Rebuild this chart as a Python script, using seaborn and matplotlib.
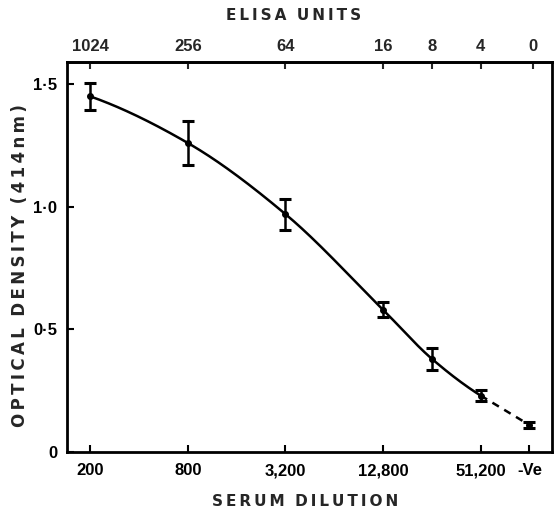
import numpy as np
import pandas as pd
import matplotlib
matplotlib.use("Agg")
import matplotlib.pyplot as plt
import seaborn as sns

# ---- data ----
dilution = [200, 800, 3200, 12800, 25600, 51200]
od_mean = [1.45, 1.26, 0.97, 0.58, 0.38, 0.23]
od_err = [0.055, 0.09, 0.063, 0.03, 0.045, 0.022]
neg_dilution = 102400          # position used for the "-Ve" control
neg_mean = 0.11
neg_err = 0.014

bottom_ticks = [200, 800, 3200, 12800, 51200, 102400]
bottom_labels = ["200", "800", "3,200", "12,800", "51,200", "-Ve"]
top_ticks = [200, 800, 3200, 12800, 25600, 51200, 108000]
top_labels = ["1024", "256", "64", "16", "8", "4", "0"]
y_ticks = [0, 0.5, 1.0, 1.5]
y_labels = ["0", "0·5", "1·0", "1·5"]


def pchip(xk, yk, xq):
    """Monotone cubic (Fritsch-Carlson) curve through the points."""
    xk = np.asarray(xk, float)
    yk = np.asarray(yk, float)
    h = np.diff(xk)
    d = np.diff(yk) / h
    m = np.zeros_like(yk)
    for i in range(1, len(xk) - 1):
        if d[i - 1] * d[i] > 0:
            w1 = 2 * h[i] + h[i - 1]
            w2 = h[i] + 2 * h[i - 1]
            m[i] = (w1 + w2) / (w1 / d[i - 1] + w2 / d[i])
    m[0] = ((2 * h[0] + h[1]) * d[0] - h[0] * d[1]) / (h[0] + h[1])
    m[-1] = ((2 * h[-1] + h[-2]) * d[-1] - h[-1] * d[-2]) / (h[-1] + h[-2])
    idx = np.clip(np.searchsorted(xk, xq) - 1, 0, len(xk) - 2)
    t = (xq - xk[idx]) / h[idx]
    h00 = 2 * t**3 - 3 * t**2 + 1
    h10 = t**3 - 2 * t**2 + t
    h01 = -2 * t**3 + 3 * t**2
    h11 = t**3 - t**2
    return (h00 * yk[idx] + h10 * h[idx] * m[idx] + h01 * yk[idx + 1]
            + h11 * h[idx] * m[idx + 1])


sns.set_style("ticks")
plt.rcParams["font.family"] = ["Liberation Sans", "DejaVu Sans"]

fig = plt.figure(figsize=(5.54, 5.11), dpi=100)
ax = fig.add_axes([67 / 554, 1 - 452 / 511, 485 / 554, 390 / 511])

# smooth curve through the serum dilution points (in log space)
lx = np.log2(dilution)
grid = np.linspace(lx[0], lx[-1], 300)
curve = pd.DataFrame({"x": 2 ** grid, "y": pchip(lx, od_mean, grid)})
sns.lineplot(data=curve, x="x", y="y", ax=ax, color="black", lw=1.8)

# dashed link to the negative control
neg = pd.DataFrame({"x": [dilution[-1], neg_dilution], "y": [od_mean[-1], neg_mean]})
sns.lineplot(data=neg, x="x", y="y", ax=ax, color="black", lw=1.8,
             linestyle=(0, (3, 2.5)))

# points with error bars
ax.errorbar(dilution + [neg_dilution], od_mean + [neg_mean], yerr=od_err + [neg_err],
            fmt="o", color="black", ms=4, elinewidth=1.8, capsize=4, capthick=2.2)

ax.set_xscale("log", base=2)
ax.set_xlim(144, 141000)
ax.set_ylim(0, 1.59)

ax.set_xticks(bottom_ticks)
ax.set_xticklabels(bottom_labels)
ax.minorticks_off()
ax.set_yticks(y_ticks)
ax.set_yticklabels(y_labels)

for s in ax.spines.values():
    s.set_linewidth(2)
    s.set_color("black")

ax.tick_params(axis="both", direction="in", length=5, width=1.5, colors="black",
               labelsize=12)
ax.tick_params(axis="x", pad=8)
ax.tick_params(axis="y", pad=7)
for t in ax.get_xticklabels() + ax.get_yticklabels():
    t.set_fontweight("bold")

top = ax.secondary_xaxis("top")
top.set_xticks(top_ticks)
top.set_xticklabels(top_labels)
top.minorticks_off()
top.tick_params(direction="in", length=5, width=1.5, labelsize=12, pad=6)
for t in top.get_xticklabels():
    t.set_fontweight("bold")
top.spines["top"].set_linewidth(2)

ts = "\u2009"
ax.set_xlabel(ts.join("SERUM") + "  " + ts.join("DILUTION"), fontsize=11,
              fontweight="heavy", family=["DejaVu Sans"], va="center", ha="center")
ax.xaxis.set_label_coords(0.49, -0.128)
ax.set_ylabel(ts.join("OPTICAL") + "  " + ts.join("DENSITY") + "  " + ts.join("(414nm)"),
              fontsize=12, fontweight="heavy", family=["DejaVu Sans"],
              va="center", ha="center")
ax.yaxis.set_label_coords(-0.097, 0.477)
ax.text(0.468, 1.1205, ts.join("ELISA") + "  " + ts.join("UNITS"), transform=ax.transAxes,
        fontsize=11, fontweight="heavy", family=["DejaVu Sans"],
        ha="center", va="center")

fig.savefig("out.png", dpi=100)
